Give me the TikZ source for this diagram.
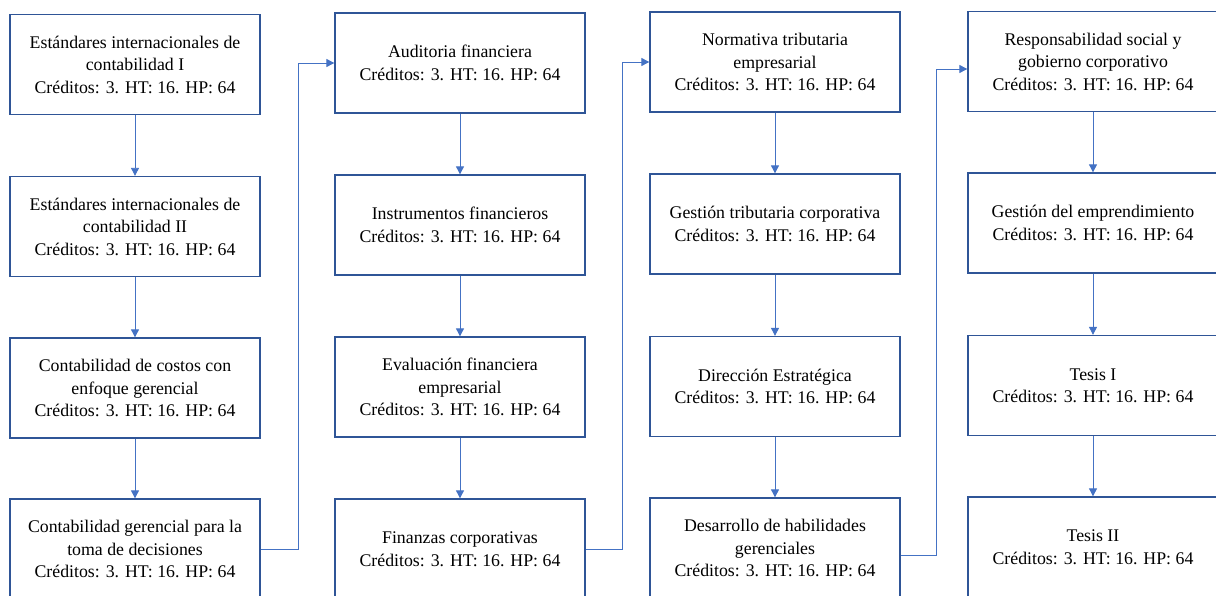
\documentclass[tikz,border=0pt]{standalone}
\usepackage{fontspec}
\setmainfont{Liberation Serif}
\usetikzlibrary{arrows.meta}
\definecolor{boxblue}{HTML}{2F5597}
\definecolor{arrblue}{HTML}{4472C4}
\tikzset{
  curso/.style={draw=boxblue,line width=1.3pt,minimum width=250pt,minimum height=100pt,
    align=center,font=\fontsize{17.8}{22.5}\selectfont,inner sep=2pt},
  arr/.style={draw=arrblue,line width=.9pt,-{Triangle[length=8pt,width=8pt]}}
}
\newcommand{\cred}{Créditos: 3. HT: 16. HP: 64}
\begin{document}
\begin{tikzpicture}[x=1pt,y=-1pt]
  \useasboundingbox (0,0) rectangle (1216,596);
  \clip (0,0) rectangle (1216,596);
  % primera columna
  \node[curso] (c11) at (135,64.5){Estándares internacionales de\\contabilidad I\\\cred};
  \node[curso] (c12) at (135,226.5){Estándares internacionales de\\contabilidad II\\\cred};
  \node[curso] (c13) at (135,388){Contabilidad de costos con\\enfoque gerencial\\\cred};
  \node[curso] (c14) at (135,549){Contabilidad gerencial para la\\toma de decisiones\\\cred};
  % segunda columna
  \node[curso] (c21) at (460,63){Auditoria financiera\\\cred};
  \node[curso] (c22) at (460,225){Instrumentos financieros\\\cred};
  \node[curso] (c23) at (460,387){Evaluación financiera\\empresarial\\\cred};
  \node[curso] (c24) at (460,549){Finanzas corporativas\\\cred};
  % tercera columna
  \node[curso] (c31) at (775,62){Normativa tributaria\\empresarial\\\cred};
  \node[curso] (c32) at (775,224){Gestión tributaria corporativa\\\cred};
  \node[curso] (c33) at (775,386.5){Dirección Estratégica\\\cred};
  \node[curso] (c34) at (775,548){Desarrollo de habilidades\\gerenciales\\\cred};
  % cuarta columna
  \node[curso] (c41) at (1093,61.5){Responsabilidad social y\\gobierno corporativo\\\cred};
  \node[curso] (c42) at (1093,223){Gestión del emprendimiento\\\cred};
  \node[curso] (c43) at (1093,385.5){Tesis I\\\cred};
  \node[curso] (c44) at (1093,547){Tesis II\\\cred};
  \foreach \c in {1,2,3,4}{
    \draw[arr](c\c1)--(c\c2);
    \draw[arr](c\c2)--(c\c3);
    \draw[arr](c\c3)--(c\c4);
  }
  \draw[arr](c14.east)--++(38,0)|-(c21.west);
  \draw[arr](c24.east)--++(37,0)|-(c31.west);
  \draw[arr]([yshift=-7pt]c34.east)--++(36,0)|-([yshift=-7.5pt]c41.west);
\end{tikzpicture}
\end{document}
